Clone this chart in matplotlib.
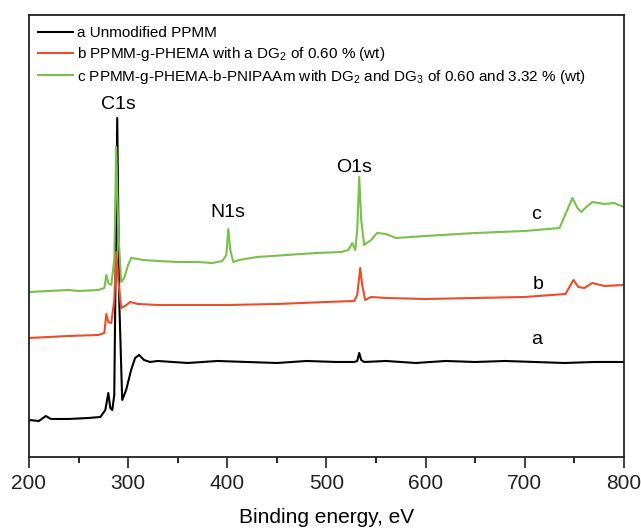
"""XPS survey spectra of PPMM, PPMM-g-PHEMA and PPMM-g-PHEMA-b-PNIPAAm."""

import matplotlib
matplotlib.use("Agg")
import matplotlib.pyplot as plt
from matplotlib.ticker import MultipleLocator

plt.rcParams["font.family"] = ["Liberation Sans", "DejaVu Sans"]
plt.rcParams["mathtext.default"] = "regular"

# spectrum a: unmodified PPMM (arbitrary intensity units)
energy_a = [200, 210, 217, 222, 240, 260, 272, 277, 280, 282, 284, 286, 289, 291, 294,
            298, 303, 307, 311, 316, 322, 330, 360, 390, 420, 450, 480, 510, 528, 531,
            533, 535, 538, 560, 590, 620, 650, 680, 710, 740, 770, 800]
intensity_a = [37, 36, 41, 38, 38, 39, 40, 47, 64, 49, 47, 62, 339, 157, 57,
               67, 87, 99, 102, 97, 95, 96, 94, 96, 95, 94, 96, 95, 95, 96,
               104, 97, 95, 96, 94, 96, 95, 96, 95, 94, 95, 95]

# spectrum b: PPMM-g-PHEMA
energy_b = [200, 240, 270, 276, 278, 280, 283, 286, 288, 290, 293, 297, 302, 310, 330,
            400, 450, 500, 528, 531, 534, 536, 539, 545, 560, 600, 650, 700, 741, 749,
            754, 760, 768, 780, 800]
intensity_b = [119, 121, 122, 124, 143, 135, 134, 157, 205, 177, 149, 151, 155, 153, 152,
               152, 153, 155, 156, 162, 189, 172, 157, 160, 159, 158, 159, 160, 163, 177,
               170, 169, 174, 171, 172]

# spectrum c: PPMM-g-PHEMA-b-PNIPAAm
energy_c = [200, 240, 250, 270, 276, 278, 280, 283, 286, 288, 290, 293, 296, 300, 303,
            310, 315, 330, 350, 370, 385, 395, 399, 401, 403, 406, 412, 430, 460, 490,
            515, 522, 526, 529, 531, 533, 535, 538, 545, 551, 560, 570, 600, 650, 700,
            735, 741, 748, 753, 757, 762, 768, 780, 790, 800]
intensity_c = [165, 167, 166, 167, 169, 182, 174, 172, 197, 310, 227, 175, 179, 192, 199,
               198, 197, 196, 195, 195, 194, 196, 202, 228, 207, 195, 197, 200, 202, 204,
               205, 207, 214, 207, 227, 280, 237, 212, 217, 224, 223, 219, 221, 224, 226,
               229, 243, 259, 249, 245, 250, 255, 253, 254, 250]

labels = ["a Unmodified PPMM",
          "b PPMM-g-PHEMA with a DG$_2$ of 0.60 % (wt)",
          "c PPMM-g-PHEMA-b-PNIPAAm with DG$_2$ and DG$_3$ of 0.60 and 3.32 % (wt)"]
colors = ["#000000", "#ee4b2b", "#79c04b"]

fig = plt.figure(figsize=(6.41, 5.28), dpi=100)
ax = fig.add_axes([0.0452, 0.1345, 0.9283, 0.8371])

for x, y, label, color in zip([energy_a, energy_b, energy_c],
                              [intensity_a, intensity_b, intensity_c], labels, colors):
    ax.plot(x, y, color=color, linewidth=1.5, label=label)

ax.set_xlim(200, 800)
ax.set_ylim(0, 442)
ax.xaxis.set_major_locator(MultipleLocator(100))
ax.xaxis.set_minor_locator(MultipleLocator(50))
ax.tick_params(axis="x", which="major", direction="out", length=8, width=1.2,
               labelsize=15, pad=4, colors="#222222")
ax.tick_params(axis="x", which="minor", direction="out", length=4, width=1.2)
ax.set_yticks([])
for spine in ax.spines.values():
    spine.set_linewidth(1.3)
    spine.set_color("#222222")

ax.set_xlabel("Binding energy, eV", fontsize=15, labelpad=11)

# peak labels
ax.text(290, 352, "C1s", fontsize=14, ha="center", va="center")
ax.text(401, 244, "N1s", fontsize=14, ha="center", va="center")
ax.text(528, 289, "O1s", fontsize=14, ha="center", va="center")
ax.text(712, 117, "a", fontsize=14, ha="center", va="center")
ax.text(713, 172, "b", fontsize=14, ha="center", va="center")
ax.text(711, 242, "c", fontsize=14, ha="center", va="center")

ax.legend(loc="upper left", frameon=False, fontsize=11, handlelength=2.3,
          handletextpad=0.25, borderaxespad=0.2, labelspacing=0.3,
          bbox_to_anchor=(0.0, 0.995))

fig.savefig("out.png", dpi=100)
